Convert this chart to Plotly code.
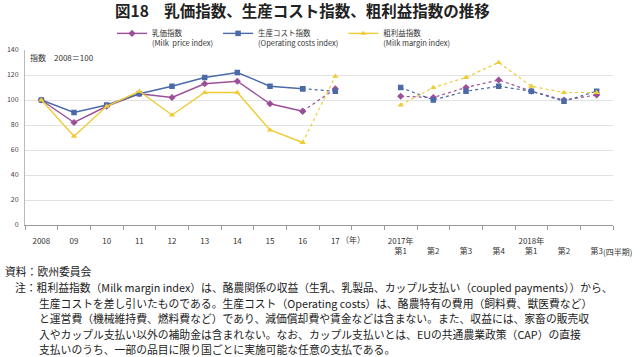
import plotly.graph_objects as go

# ---- data ----
year_keys = ["2008", "09", "10", "11", "12", "13", "14", "15", "16", "17"]
year_labels = ["2008", "09", "10", "11", "12", "13", "14", "15", "16", "17"]
quarter_keys = ["2017Q1", "2017Q2", "2017Q3", "2017Q4", "2018Q1", "2018Q2", "2018Q3"]
quarter_labels = ["2017年<br>第1", "\u3000<br>第2", "\u3000<br>第3", "\u3000<br>第4",
                  "2018年<br>第1", "\u3000<br>第2", "\u3000<br>第3"]
gap_key = "gap"

milk_price_year = [100, 82, 95, 105, 102, 113, 115, 97, 91, 109]
op_cost_year = [100, 90, 96, 105, 111, 118, 122, 111, 109, 107]
margin_year = [100, 71, 95, 107, 88, 106, 106, 76, 66, 119]

milk_price_q = [103, 102, 110, 116, 107, 100, 104]
op_cost_q = [110, 100, 107, 111, 107, 99, 107]
margin_q = [96, 110, 118, 130, 111, 106, 106]

series_names = ["乳価指数<br>(Milk  price index)",
                "生産コスト指数<br>(Operating costs index)",
                "粗利益指数<br>(Milk margin index)"]
colors = ["#9B4F98", "#4A6AA8", "#EFCB35"]
symbols = ["diamond", "square", "triangle-up"]

FONT = "Noto Sans CJK JP"

fig = go.Figure()
year_series = [milk_price_year, op_cost_year, margin_year]
q_series = [milk_price_q, op_cost_q, margin_q]
for i in range(3):
    fig.add_trace(go.Scatter(
        x=year_keys[:-1], y=year_series[i][:-1], mode="lines+markers",
        name=series_names[i], line=dict(color=colors[i], width=1.4),
        marker=dict(symbol=symbols[i], size=5.5, color=colors[i]),
        showlegend=True, legendrank=i + 1))
    fig.add_trace(go.Scatter(
        x=year_keys[-2:], y=year_series[i][-2:], mode="lines+markers",
        line=dict(color=colors[i], width=1.2, dash="dot"),
        marker=dict(symbol=symbols[i], size=5.5, color=colors[i]),
        showlegend=False, hoverinfo="skip"))
    fig.add_trace(go.Scatter(
        x=quarter_keys, y=q_series[i], mode="lines+markers",
        line=dict(color=colors[i], width=1.2, dash="dot"),
        marker=dict(symbol=symbols[i], size=5.5, color=colors[i]),
        showlegend=False))

cat_order = year_keys + [gap_key] + quarter_keys
tick_text = year_labels + [""] + quarter_labels

def ypaper(py):
    return (225 - py) / 175

def xpaper(px):
    return (px - 25) / 588

fig.update_layout(
    width=640, height=357,
    margin=dict(l=25, r=27, t=50, b=132, autoexpand=False),
    paper_bgcolor="white", plot_bgcolor="white",
    font=dict(family=FONT, color="#333"),
    showlegend=True,
    legend=dict(orientation="h", x=xpaper(112), xanchor="left",
                y=ypaper(22), yanchor="top",
                font=dict(size=7.5, family=FONT, color="#333"),
                valign="top", itemwidth=30, bgcolor="rgba(0,0,0,0)",
                traceorder="normal"),
    xaxis=dict(type="category", categoryorder="array", categoryarray=cat_order,
               tickvals=cat_order, ticktext=tick_text, tickson="boundaries",
               ticks="outside", ticklen=4, tickcolor="#999", tickangle=0,
               ticklabelstandoff=8,
               showline=True, linecolor="#999", linewidth=1,
               showgrid=False, tickfont=dict(size=8, color="#333"),
               range=[-0.5, 17.5], fixedrange=True),
    yaxis=dict(range=[0, 140], dtick=20, showgrid=True, gridcolor="#E2E2E2",
               showline=True, linecolor="#BBBBBB", ticks="", zeroline=False,
               ticklabelstandoff=4,
               tickfont=dict(size=7, color="#444"), fixedrange=True),
)

fig.add_annotation(text="<b>図18　乳価指数、生産コスト指数、粗利益指数の推移</b>",
                   xref="paper", yref="paper", x=xpaper(302), y=ypaper(10),
                   xanchor="center", yanchor="middle", showarrow=False,
                   font=dict(size=15.5, family=FONT, color="#222"))
fig.add_annotation(text="指数　2008＝100", xref="paper", yref="paper",
                   x=xpaper(28), y=ypaper(57), xanchor="left", yanchor="middle",
                   showarrow=False, font=dict(size=8, family=FONT, color="#333"))
fig.add_annotation(text="（年）", xref="x", yref="paper", x=9.55, y=ypaper(240),
                   xanchor="center", yanchor="middle", showarrow=False,
                   font=dict(size=8, family=FONT, color="#333"))
fig.add_annotation(text="(四半期)", xref="x", yref="paper", x=17.12, y=ypaper(251),
                   xanchor="left", yanchor="middle", showarrow=False,
                   font=dict(size=8, family=FONT, color="#333"))

notes = [
    (3, 271, "資料：欧州委員会"),
    (13, 287, "注：粗利益指数（Milk margin index）は、酪農関係の収益（生乳、乳製品、カップル支払い（coupled payments））から、"),
    (37, 302.5, "生産コストを差し引いたものである。生産コスト（Operating costs）は、酪農特有の費用（飼料費、獣医費など）"),
    (37, 318, "と運営費（機械維持費、燃料費など）であり、減価償却費や賃金などは含まない。また、収益には、家畜の販売収"),
    (37, 333.5, "入やカップル支払い以外の補助金は含まれない。なお、カップル支払いとは、EUの共通農業政策（CAP）の直接"),
    (37, 349, "支払いのうち、一部の品目に限り国ごとに実施可能な任意の支払である。"),
]
for px, py, t in notes:
    fig.add_annotation(text=t, xref="paper", yref="paper", x=xpaper(px),
                       y=ypaper(py), xanchor="left", yanchor="middle", showarrow=False,
                       font=dict(size=10.8, family=FONT, color="#222"))

fig.write_html("out.html", config={"displayModeBar": False},
               post_script="document.body.style.margin='0';document.body.style.overflow='hidden';")
